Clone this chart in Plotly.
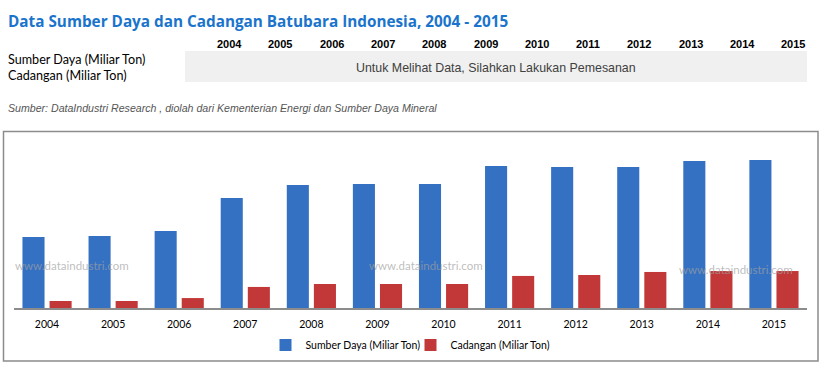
import plotly.graph_objects as go

years = ["2004", "2005", "2006", "2007", "2008", "2009", "2010", "2011", "2012", "2013", "2014", "2015"]
sumber_daya = [60.6, 61.5, 65.8, 94.0, 105.1, 106.0, 106.0, 121.4, 120.5, 120.5, 125.6, 126.5]
cadangan = [6.0, 6.0, 8.5, 18.0, 20.5, 20.5, 20.5, 27.4, 28.2, 30.8, 31.6, 31.6]
series_names = ["Sumber Daya (Miliar Ton)", "Cadangan (Miliar Ton)"]

W, H = 821, 374
L, R, T, B = 14, 14, 150, 66
PW, PH = W - L - R, H - T - B


def px(x):
    return (x - L) / PW


def py(y):
    return (H - B - y) / PH


fig = go.Figure()
fig.add_trace(go.Bar(x=years, y=sumber_daya, name=series_names[0],
                     marker=dict(color="#3571c2", line=dict(width=0))))
fig.add_trace(go.Bar(x=years, y=cadangan, name=series_names[1],
                     marker=dict(color="#c23838", line=dict(width=0))))

calibri = "Lato, 'Open Sans', sans-serif"
arial = "'Liberation Sans', Arial, sans-serif"

annotations = []
# title
annotations.append(dict(text="<b>Data Sumber Daya dan Cadangan Batubara Indonesia, 2004 - 2015</b>",
                        x=px(6), y=py(21), xref="paper", yref="paper", xanchor="left", yanchor="middle",
                        showarrow=False, font=dict(family="'Open Sans', sans-serif", size=15.3, color="#1a74cc")))
# header years
for i, yr in enumerate(years):
    annotations.append(dict(text="<b>%s</b>" % yr, x=px(229 + i * 51.3), y=py(44), xref="paper", yref="paper",
                            xanchor="center", yanchor="middle", showarrow=False,
                            font=dict(family=arial, size=11, color="#000")))
# row labels (one two-line text block)
annotations.append(dict(text=series_names[0] + "<br>" + series_names[1], x=px(6), y=py(67.5),
                        xref="paper", yref="paper", xanchor="left", yanchor="middle", align="left",
                        showarrow=False, font=dict(family=calibri, size=12.6, color="#000")))
annotations.append(dict(text="Untuk Melihat Data, Silahkan Lakukan Pemesanan", x=px(496), y=py(68),
                        xref="paper", yref="paper", xanchor="center", yanchor="middle", showarrow=False,
                        font=dict(family=arial, size=12.4, color="#404040")))
annotations.append(dict(text="<i>Sumber: DataIndustri Research , diolah dari Kementerian Energi dan Sumber Daya Mineral</i>",
                        x=px(6), y=py(108), xref="paper", yref="paper", xanchor="left", yanchor="middle",
                        showarrow=False, font=dict(family=arial, size=10.6, color="#555")))
# watermarks
for wx, wy in [(72, 265), (426, 265), (736, 269)]:
    annotations.append(dict(text="www.dataindustri.com", x=px(wx), y=py(wy), xref="paper", yref="paper",
                            xanchor="center", yanchor="middle", showarrow=False,
                            font=dict(family=calibri, size=11.5, color="rgba(160,160,160,0.7)")))

shapes = [
    dict(type="rect", xref="paper", yref="paper", x0=px(185), x1=px(807), y0=py(51), y1=py(82),
         fillcolor="#f0f0f0", line=dict(width=0), layer="below"),
    dict(type="rect", xref="paper", yref="paper", x0=px(3.5), x1=px(818), y0=py(131.5), y1=py(361),
         fillcolor="rgba(0,0,0,0)", line=dict(color="#8c8c8c", width=1.5), layer="below"),
]

fig.update_layout(
    width=W, height=H,
    margin=dict(l=L, r=R, t=T, b=B, pad=0),
    paper_bgcolor="white", plot_bgcolor="white",
    barmode="group", bargap=0.18, bargroupgap=0.185,
    showlegend=True,
    legend=dict(orientation="h", x=0.5, xanchor="center", y=py(345), yanchor="middle",
                font=dict(family=calibri, size=10.5, color="#000"), itemwidth=30, traceorder="normal",
                entrywidth=100, entrywidthmode="pixels",
                bgcolor="rgba(0,0,0,0)"),
    xaxis=dict(showline=True, linecolor="#8c8c8c", linewidth=1.5, ticks="", showgrid=False,
               tickfont=dict(family=calibri, size=10.5, color="#000"), ticklabelstandoff=6,
               fixedrange=True),
    yaxis=dict(range=[0, PH / 1.17], visible=False, showgrid=False, zeroline=False, fixedrange=True),
    annotations=annotations,
    shapes=shapes,
    font=dict(family=calibri),
)

fig.write_html("out.html", config={"displayModeBar": False},
               post_script="document.body.style.margin='0';document.body.style.padding='0';")
